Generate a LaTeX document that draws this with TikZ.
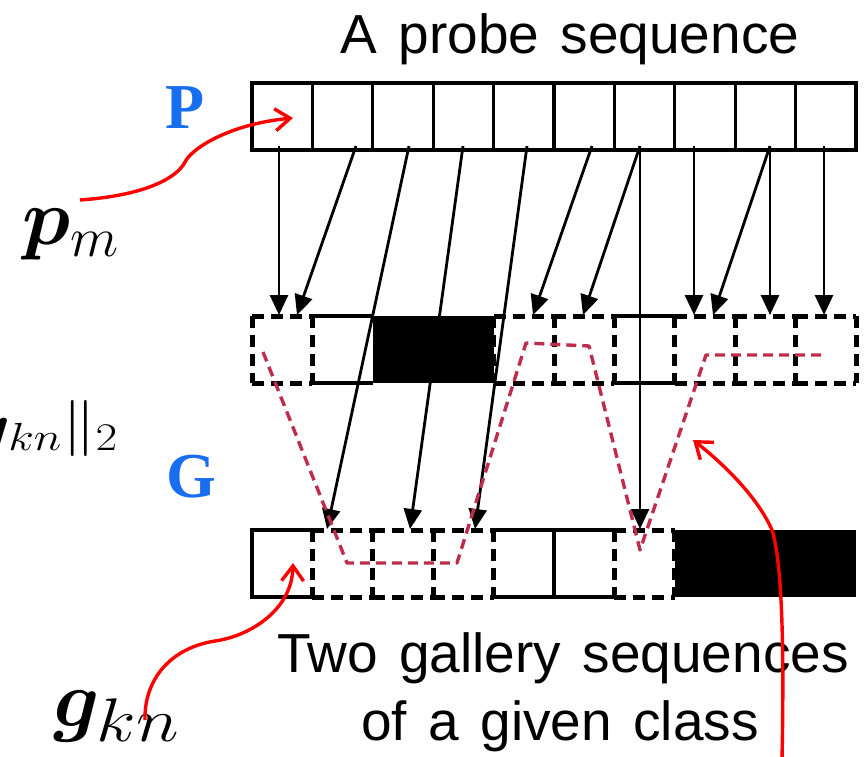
\RequirePackage{fix-cm}
\documentclass[tikz,border=0pt]{standalone}
\usepackage{fontspec}
\usepackage{bm}
\usetikzlibrary{arrows.meta}
\newfontfamily\arialfont[WordSpace=1.4]{Liberation Sans}
\newfontfamily\timesfont{Liberation Serif}
\definecolor{lblblue}{RGB}{25,110,240}
\definecolor{pathred}{RGB}{190,45,75}
\definecolor{annred}{RGB}{255,0,0}
\begin{document}
\begin{tikzpicture}[x=1pt,y=-1pt,
  cell/.style={minimum width=60.4pt,minimum height=67pt,inner sep=0pt,outer sep=0pt},
  solidln/.style={line width=3.2pt},
  dashln/.style={line width=5pt,dash pattern=on 12pt off 7pt},
  conn/.style={line width=2.8pt,-{Triangle[length=20pt,width=18pt]}},
  matchpath/.style={draw=pathred,line width=3.4pt,dash pattern=on 10pt off 6pt,line join=round},
  annot/.style={draw=annred,line width=3.4pt,-{Straight Barb[length=15pt,width=22pt]}},
  sanslbl/.style={inner sep=0pt,anchor=base,font=\arialfont\fontsize{55}{60}\selectfont},
  bluelbl/.style={inner sep=0pt,anchor=base west,text=lblblue,font=\timesfont\bfseries\fontsize{64}{70}\selectfont},
  mathlbl/.style={inner sep=0pt,anchor=base west,font=\fontsize{80}{90}\selectfont}]
\useasboundingbox (0,0) rectangle (865,756);
\fill[white] (0,0) rectangle (865,756);
\clip (0,0) rectangle (865,756);

% cells
\foreach \i in {1,...,10} {
  \node[cell] (p\i) at ({252+60.4*(\i-0.5)},116.5) {};
  \node[cell] (g\i) at ({252+60.4*(\i-0.5)},349.5) {};
  \node[cell] (h\i) at ({252+60.4*(\i-0.5)},563.5) {};
}

% probe row
\draw[solidln] (p1.north west) rectangle (p10.south east);
\foreach \i in {1,...,9} \draw[solidln] (p\i.north east) -- (p\i.south east);

% first gallery row
\fill[black] (g3.north west) rectangle (g4.south east);
\draw[solidln] (g2.north west) -- (g2.north east) (g2.south west) -- (g2.south east);
\draw[solidln] (g7.north west) -- (g7.north east) (g7.south west) -- (g7.south east);

% second gallery row
\fill[black] (h8.north west) rectangle (h10.south east);
\draw[solidln] (h1.north east) -- (h1.north west) -- (h1.south west) -- (h1.south east);
\draw[solidln] (h5.north west) -- (h6.north east) (h5.south west) -- (h6.south east) (h5.north east) -- (h5.south east);

% dashed (matched) cells: each edge drawn on its own, in one direction
\foreach \c in {g1,g5,g6,g8,g9,g10,h2,h3,h4,h7} {
  \draw[dashln] (\c.north west) -- (\c.north east);
  \draw[dashln] (\c.south west) -- (\c.south east);
  \draw[dashln] (\c.north west) -- (\c.south west);
  \draw[dashln] (\c.north east) -- (\c.south east);
}

% connector end points
\coordinate (s1) at (279,146);
\coordinate (s2) at (356,146);
\coordinate (s3) at (409,146);
\coordinate (s4) at (463,146);
\coordinate (s5) at (527,146);
\coordinate (s6) at (592,146);
\coordinate (s7) at (640,146);
\coordinate (s8) at (694,146);
\coordinate (s9) at (770,146);
\coordinate (s10) at (824,146);
\coordinate (e1) at (279,315);
\coordinate (e2) at (297,315);
\coordinate (e3) at (327,529);
\coordinate (e4) at (410,529);
\coordinate (e5) at (475,529);
\coordinate (e6) at (533,315);
\coordinate (e7) at (583,315);
\coordinate (e8) at (640,529);
\coordinate (e9) at (694,315);
\coordinate (e10) at (713,315);
\coordinate (e11) at (770,315);
\coordinate (e12) at (824,315);

\draw[conn] (s1) -- (e1);
\draw[conn] (s2) -- (e2);
\draw[conn] (s3) -- (e3);
\draw[conn] (s4) -- (e4);
\draw[conn] (s5) -- (e5);
\draw[conn] (s6) -- (e6);
\draw[conn] (s7) -- (e7);
\draw[conn] (s7) -- (e8);
\draw[conn] (s8) -- (e9);
\draw[conn] (s9) -- (e10);
\draw[conn] (s9) -- (e11);
\draw[conn] (s10) -- (e12);

% warping path
\coordinate (r1) at (263,352);
\coordinate (r2) at (347,563);
\coordinate (r3) at (457,563);
\coordinate (r4) at (526,343);
\coordinate (r5) at (589,346);
\coordinate (r6) at (640,550);
\coordinate (r7) at (706,355);
\coordinate (r8) at (826,355);
\draw[matchpath] (r1) -- (r2) -- (r3) -- (r4) -- (r5) -- (r6) -- (r7) -- (r8);

% labels
\node[sanslbl] (title) at (570,53) {A probe sequence};
\node[sanslbl] (cap1) at (563,672) {Two gallery sequences};
\node[sanslbl] (cap2) at (560,740) {of a given class};
\node[bluelbl] (plbl) at (165,128) {P};
\node[bluelbl] (glbl) at (166,497) {G};
\node[mathlbl] (pm) at (22,244) {$\bm{p}_m$};
\node[mathlbl] (gkn) at (53,726) {$\bm{g}_{\scalebox{1.3}[1.1]{$\scriptstyle kn$}}$};
\node[inner sep=0pt,anchor=base east,font=\fontsize{56}{64}\selectfont] (norm) at (118,442) {\scalebox{1.2}[1]{$\|\bm{p}_m-\bm{g}_{kn}\|_2$}};

% red annotation arrows
\coordinate (pmfrom) at (80,200);
\coordinate (pmbend) at (185,162);
\coordinate (pmto) at (293,118);
\draw[annot] (pmfrom) .. controls (150,195) and (178,176) .. (pmbend) .. controls (192,148) and (230,124) .. (pmto);
\coordinate (gfrom) at (145,720);
\coordinate (gbend) at (215,641);
\coordinate (gto) at (293,563);
\draw[annot] (gfrom) .. controls (144,680) and (170,648) .. (gbend) .. controls (250,636) and (292,610) .. (gto);
\coordinate (wfrom) at (782,760);
\coordinate (wbend) at (772,530);
\coordinate (wto) at (693,440);
\draw[annot] (wfrom) .. controls (784,660) and (783,565) .. (wbend) .. controls (758,498) and (725,465) .. (wto);
\end{tikzpicture}
\end{document}
